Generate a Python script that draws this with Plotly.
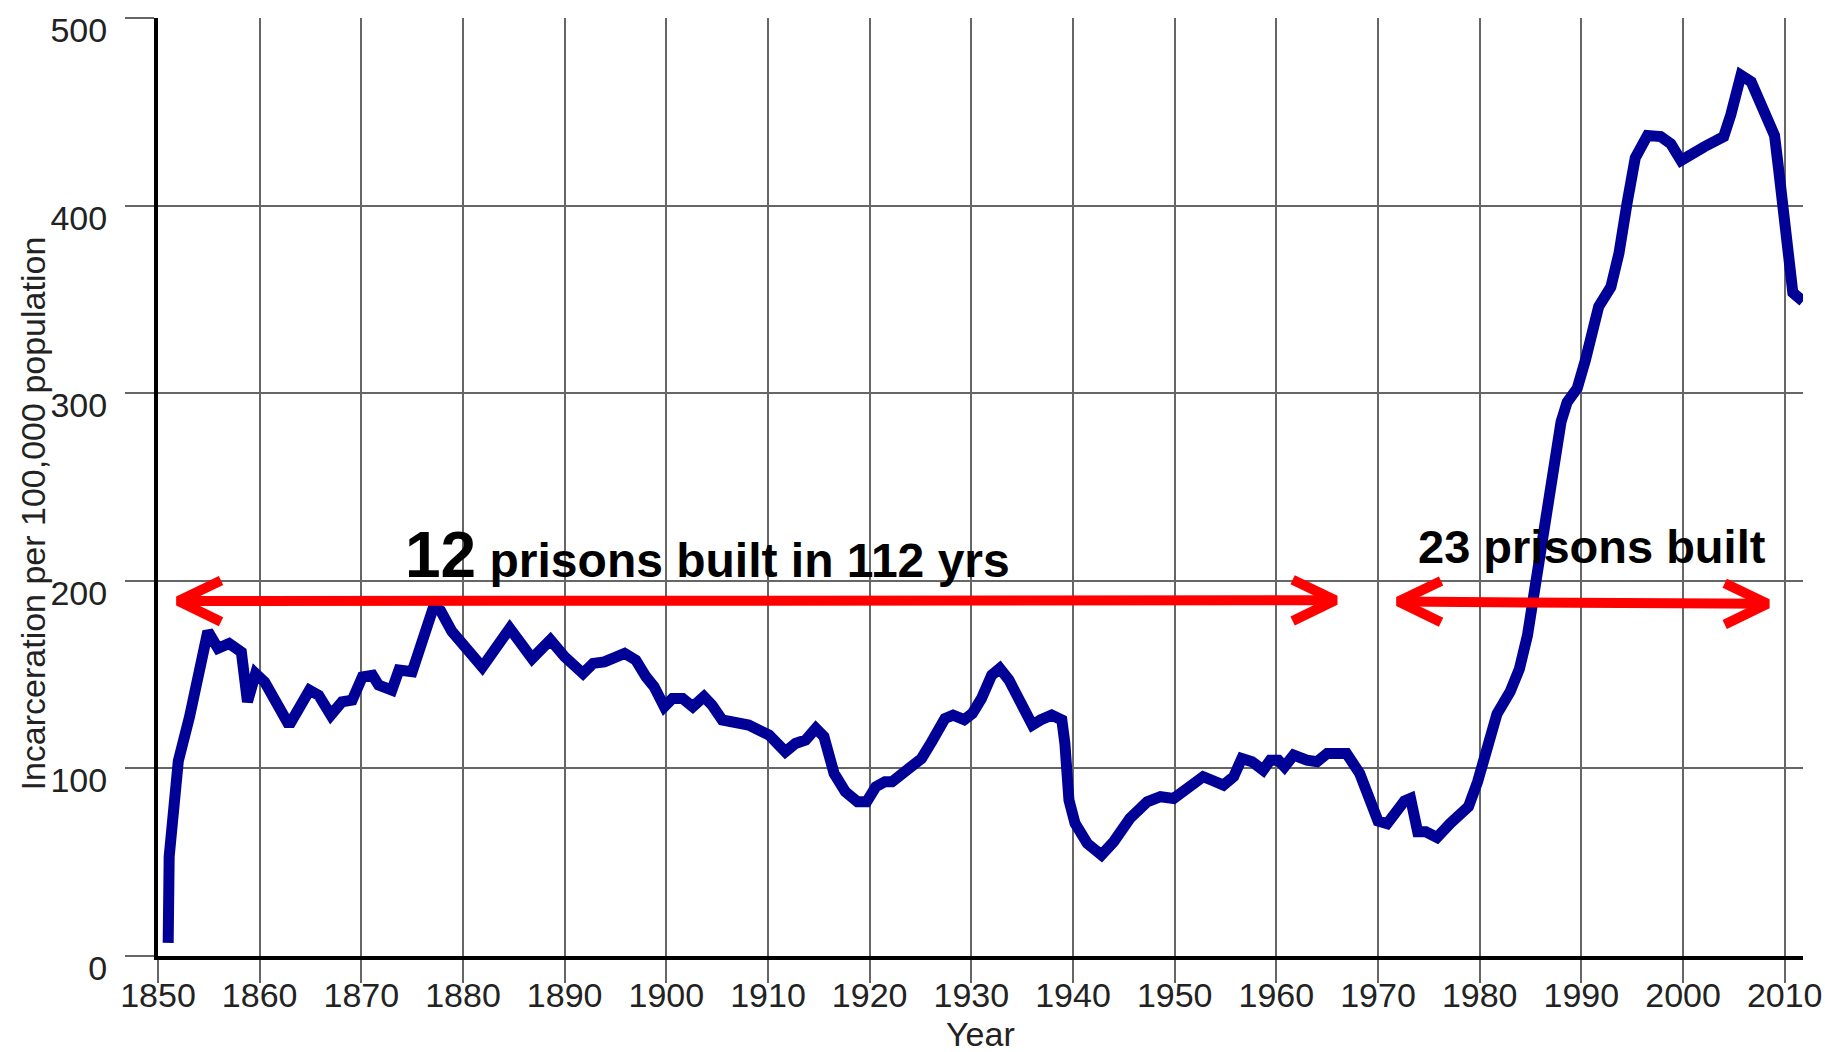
import plotly.graph_objects as go

# ---- data ----
years = [1851.0, 1851.1, 1852.0, 1853.1, 1854.9, 1855.9, 1857.0, 1858.2, 1858.8, 1859.6,
         1860.5, 1862.9, 1864.9, 1865.8, 1867.0, 1868.1, 1869.1, 1870.1, 1871.1, 1871.7,
         1873.0, 1873.7, 1875.0, 1877.1, 1877.8, 1878.9, 1881.9, 1884.6, 1886.8, 1888.6,
         1890.0, 1891.8, 1892.8, 1893.9, 1895.9, 1897.0, 1898.0, 1898.8, 1899.8, 1900.6,
         1901.6, 1902.6, 1903.7, 1904.5, 1905.5, 1906.8, 1908.1, 1910.1, 1911.1, 1911.7,
         1912.7, 1913.7, 1914.7, 1915.5, 1916.5, 1917.6, 1918.8, 1919.7, 1920.6, 1921.5,
         1922.2, 1923.8, 1925.1, 1926.1, 1927.4, 1928.2, 1929.3, 1930.1, 1931.0, 1932.0,
         1932.8, 1933.7, 1934.8, 1936.0, 1936.8, 1937.9, 1938.9, 1939.2, 1939.6, 1940.2,
         1941.4, 1942.8, 1944.0, 1945.6, 1947.3, 1948.6, 1949.9, 1951.2, 1952.8, 1953.6,
         1954.8, 1955.8, 1956.6, 1957.6, 1958.7, 1959.4, 1960.2, 1960.8, 1961.7, 1963.0,
         1964.0, 1965.0, 1966.9, 1968.2, 1969.2, 1970.0, 1970.9, 1972.6, 1973.2, 1973.9,
         1974.7, 1975.8, 1977.1, 1978.9, 1979.8, 1980.8, 1981.7, 1983.0, 1983.9, 1984.7,
         1985.3, 1986.0, 1986.7, 1987.3, 1988.0, 1988.6, 1989.6, 1990.4, 1991.2, 1991.7,
         1992.9, 1993.7, 1994.5, 1995.3, 1996.5, 1997.8, 1998.8, 1999.8, 2002.1, 2004.0,
         2004.7, 2005.7, 2006.7, 2008.0, 2009.0, 2009.4, 2010.3, 2010.8, 2011.8]
rate = [7, 53, 104, 127.5, 173, 164, 166.6, 162, 135.5, 150.6,
        146, 123, 141.7, 139, 128.4, 135.5, 136.4, 148.8, 149.7, 144.4,
        141.7, 152.4, 151.5, 186, 184, 173, 154, 174.6, 158.6, 168.5,
        159.5, 150.6, 156, 156.8, 161.3, 157.7, 148.8, 143.5, 132.9, 137.3,
        137.3, 132.9, 138.2, 133.7, 125.8, 124.9, 123.1, 117.8, 113.3, 108.9,
        113.3, 115.1, 121.3, 116.9, 97.3, 87.6, 82.2, 82.2, 90.2, 92.9,
        92.9, 100, 105.3, 114.2, 126.6, 128.4, 126, 129.3, 137.3, 149.7,
        153.3, 147.1, 136.4, 123.1, 125.8, 128.4, 125.8, 113.3, 83.1, 70.7,
        60, 53.8, 60.9, 73.4, 82.2, 84.9, 84, 89.3, 95.6, 93.8,
        91.1, 95.6, 105.3, 103.6, 99.1, 104.4, 104.4, 100.9, 107.1, 104.4,
        103.6, 108, 108, 97.3, 85, 72, 70.5, 82.6, 84, 66.2,
        66.2, 63.2, 70.7, 79.6, 93, 114, 129, 141, 153, 170.9,
        190.4, 218.9, 240, 263.8, 284.7, 295.2, 302.7, 317.7, 335.6, 346.1,
        356.6, 374.6, 401.5, 425.4, 437.4, 436.8, 432.9, 424, 431.4, 436.8,
        448.5, 469.5, 466.0, 451.5, 437.4, 419.5, 383.5, 353.6, 349]

x_ticks = list(range(1850, 2011, 10))
y_ticks = [0, 100, 200, 300, 400, 500]

x_title = "Year"
y_title = "Incarceration per 100,000 population"
label_1_big = "12"
label_1_rest = "prisons built in 112 yrs"
label_2 = "23 prisons built"

# double-headed arrow annotations: (left year, left value, right year, right value)
arrow_1 = (1852.0, 189.2, 1965.8, 189.6)
arrow_2 = (1972.0, 188.9, 2008.3, 187.7)
HEAD_DX = 4.2    # years
HEAD_DY = 11.0   # rate units

LINE_COLOR = "#000096"
ARROW_COLOR = "#ff0000"
GRID_COLOR = "#666666"
TEXT_COLOR = "#222222"
FONT = "Liberation Sans, Arial, sans-serif"

fig = go.Figure()

fig.add_trace(go.Scatter(
    x=years, y=rate, mode="lines",
    line=dict(color=LINE_COLOR, width=11),
    hoverinfo="skip", showlegend=False))

def add_arrow(a):
    x0, y0, x1, y1 = a
    kw = dict(mode="lines", line=dict(color=ARROW_COLOR, width=10),
              hoverinfo="skip", showlegend=False)
    fig.add_trace(go.Scatter(x=[x0, x1], y=[y0, y1], **kw))
    fig.add_trace(go.Scatter(x=[x0 + HEAD_DX, x0, x0 + HEAD_DX],
                             y=[y0 + HEAD_DY, y0, y0 - HEAD_DY], **kw))
    fig.add_trace(go.Scatter(x=[x1 - HEAD_DX, x1, x1 - HEAD_DX],
                             y=[y1 + HEAD_DY, y1, y1 - HEAD_DY], **kw))

add_arrow(arrow_1)
add_arrow(arrow_2)

fig.add_annotation(
    x=1874.1, y=214.0, xref="x", yref="y", xanchor="left", yanchor="middle",
    text=f"<span style='font-size:64px'>{label_1_big}</span> {label_1_rest}",
    showarrow=False, font=dict(family=FONT, size=48, color="black", weight="bold"))

fig.add_annotation(
    x=1991.0, y=218.3, xref="x", yref="y", xanchor="center", yanchor="middle",
    text=label_2, showarrow=False,
    font=dict(family=FONT, size=47, color="black", weight="bold"))

fig.add_annotation(
    x=0, y=0.4717, xref="paper", yref="paper", xanchor="center", yanchor="middle",
    xshift=-125, textangle=-90, text=y_title, showarrow=False,
    font=dict(family=FONT, size=34, color=TEXT_COLOR))

fig.add_annotation(
    x=0.5, y=0, xref="paper", yref="paper", xanchor="center", yanchor="middle",
    yshift=-78, text=x_title, showarrow=False,
    font=dict(family=FONT, size=34, color=TEXT_COLOR))

fig.update_layout(
    width=1825, height=1052,
    margin=dict(l=158, r=22, t=18, b=96, pad=0),
    paper_bgcolor="white", plot_bgcolor="white",
    xaxis=dict(range=[1850, 2011.8], tickvals=x_ticks, ticks="outside", ticklen=23,
               tickwidth=2, tickcolor=GRID_COLOR, showgrid=True, gridcolor=GRID_COLOR,
               gridwidth=2, showline=True, linecolor="black", linewidth=4, zeroline=False,
               automargin=False, ticklabelstandoff=-17,
               tickfont=dict(family=FONT, size=34, color=TEXT_COLOR)),
    yaxis=dict(range=[0, 500], tickvals=y_ticks, ticks="outside", ticklen=29,
               tickwidth=2, tickcolor=GRID_COLOR, showgrid=True, gridcolor=GRID_COLOR,
               gridwidth=2, showline=True, linecolor="black", linewidth=4, zeroline=False,
               automargin=False, ticklabelstandoff=11, ticklabelshift=12,
               tickfont=dict(family=FONT, size=34, color=TEXT_COLOR)),
)

fig.write_html("out.html", config={"displayModeBar": False},
               post_script="document.body.style.margin='0';document.body.style.overflow='hidden';")
